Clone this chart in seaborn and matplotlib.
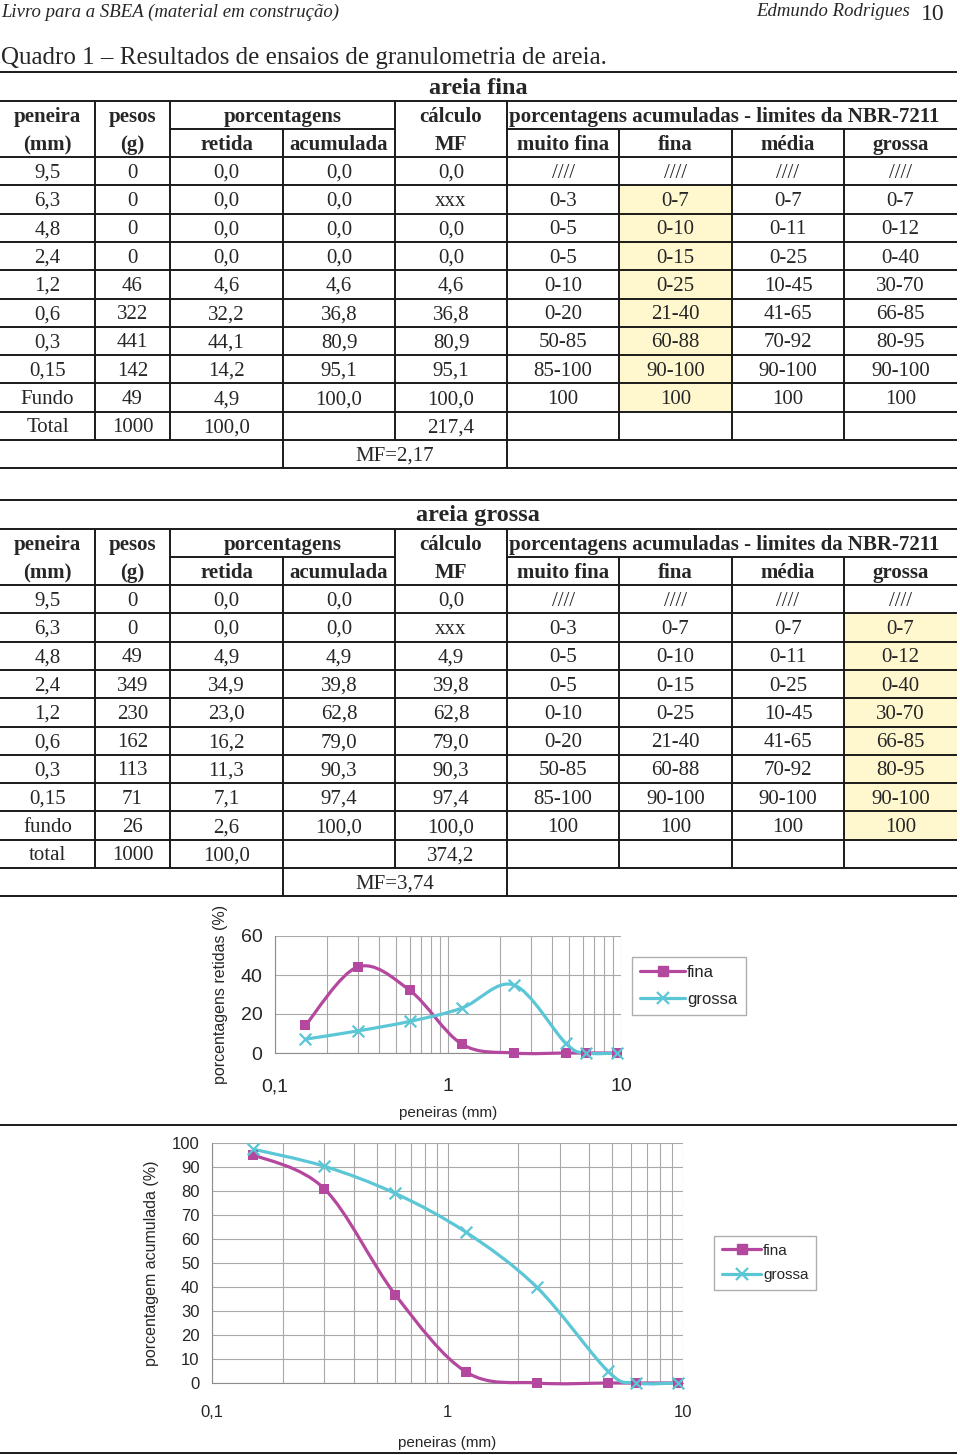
import numpy as np
import matplotlib
matplotlib.use("Agg")
import matplotlib.pyplot as plt
import seaborn as sns
from matplotlib.path import Path
from matplotlib.patches import PathPatch, Rectangle
from matplotlib.lines import Line2D
from matplotlib.ticker import FixedLocator, NullFormatter

# ---- data read from the page ----
peneiras = [9.5, 6.3, 4.8, 2.4, 1.2, 0.6, 0.3, 0.15]

# last value of each list is the "fundo" row
pesos_fina = [0, 0, 0, 0, 46, 322, 441, 142, 49]
retida_fina = [0.0, 0.0, 0.0, 0.0, 4.6, 32.2, 44.1, 14.2, 4.9]
acum_fina = [0.0, 0.0, 0.0, 0.0, 4.6, 36.8, 80.9, 95.1, 100.0]
total_mf_fina = 217.4
mf_fina = 2.17

pesos_grossa = [0, 0, 49, 349, 230, 162, 113, 71, 26]
retida_grossa = [0.0, 0.0, 4.9, 34.9, 23.0, 16.2, 11.3, 7.1, 2.6]
acum_grossa = [0.0, 0.0, 4.9, 39.8, 62.8, 79.0, 90.3, 97.4, 100.0]
total_mf_grossa = 374.2
mf_grossa = 3.74

lim_muito_fina = ["////", "0-3", "0-5", "0-5", "0-10", "0-20", "50-85", "85-100", "100"]
lim_fina = ["////", "0-7", "0-10", "0-15", "0-25", "21-40", "60-88", "90-100", "100"]
lim_media = ["////", "0-7", "0-11", "0-25", "10-45", "41-65", "70-92", "90-100", "100"]
lim_grossa = ["////", "0-7", "0-12", "0-40", "30-70", "66-85", "80-95", "90-100", "100"]

C_FINA = "#b4489e"
C_GROSSA = "#5bc6d5"
C_GRID = "#a8a8a8"
C_YELLOW = "#fff8cf"
C_LINE = "#1a1a1a"

sns.set_style("white")
plt.rcParams["font.family"] = ["Liberation Sans", "DejaVu Sans"]
SERIF = ["Liberation Serif", "DejaVu Serif"]

W, H = 960, 1455
fig = plt.figure(figsize=(W / 100, H / 100), dpi=100)
page = fig.add_axes([0, 0, 1, 1])
page.set_xlim(0, W)
page.set_ylim(H, 0)
page.axis("off")


def num(v, d=1):
    return f"{v:.{d}f}".replace(".", ",")


def hline(y, x0=0, x1=957):
    page.plot([x0, x1], [y, y], color=C_LINE, lw=1.4, solid_capstyle="butt")


def vline(x, y0, y1):
    page.plot([x, x], [y0, y1], color=C_LINE, lw=1.4, solid_capstyle="butt")


# header
page.text(1, 12, "Livro para a SBEA (material em construção)", family=SERIF,
          style="italic", fontsize=13.5, va="center", ha="left")
page.text(910, 12, "Edmundo Rodrigues", family=SERIF, style="italic",
          fontsize=13.5, va="center", ha="right")
page.text(933, 15, "10", family=SERIF, fontsize=17, va="center", ha="center")
page.text(1, 58, "Quadro 1 – Resultados de ensaios de granulometria de areia.",
          family=SERIF, fontsize=18, va="center", ha="left")

X = [0, 95, 170, 283, 395, 507, 619, 732, 844, 957]
CX = [(X[i] + X[i + 1]) / 2 for i in range(9)]
RH = 28.3
FS = 15
DY = 2


def cell(x, y, t, **kw):
    page.text(x, y + DY, t, family=SERIF, fontsize=FS, ha="center", va="center", **kw)


def draw_table(T, title, fundo, total, pesos, retida, acum, total_mf, mf, hl):
    body = T + 85
    # highlight column
    page.add_patch(Rectangle((X[hl], body + RH), X[hl + 1] - X[hl], RH * 8,
                             facecolor=C_YELLOW, edgecolor="none", zorder=0))
    page.text(478, T + 16, title, family=SERIF, fontsize=17.5,
              weight="bold", ha="center", va="center")
    # header
    y1, y2 = T + 43, T + 71
    for x, t in [(CX[0], "peneira"), (CX[1], "pesos"), ((X[2] + X[4]) / 2, "porcentagens"),
                 (CX[4], "cálculo"), (724, "porcentagens acumuladas - limites da NBR-7211")]:
        cell(x, y1, t, weight="bold")
    for x, t in zip(CX, ["(mm)", "(g)", "retida", "acumulada", "MF",
                         "muito fina", "fina", "média", "grossa"]):
        cell(x, y2, t, weight="bold")
    # body rows
    labels = [num(p, 2 if p == 0.15 else 1) for p in peneiras] + [fundo]
    for r in range(9):
        calc = "xxx" if r == 1 else num(acum[r])
        cells = [labels[r], str(pesos[r]), num(retida[r]), num(acum[r]), calc,
                 lim_muito_fina[r], lim_fina[r], lim_media[r], lim_grossa[r]]
        yc = body + RH * r + RH / 2
        for x, t in zip(CX, cells):
            cell(x, yc, t)
    yc = body + RH * 9 + RH / 2
    for x, t in zip(CX[:5], [total, str(sum(pesos)), num(sum(retida)), "", num(total_mf)]):
        cell(x, yc, t)
    cell(X[4], body + RH * 10 + RH / 2, "MF=" + num(mf, 2))
    # rules
    hline(T)
    hline(T + 29)
    hline(T + 57, X[2], X[4])
    hline(T + 57, X[5], X[9])
    hline(body)
    for r in range(1, 12):
        hline(body + RH * r)
    bot10 = body + RH * 10
    bot11 = body + RH * 11
    for x in [X[1], X[2], X[4]]:
        vline(x, T + 29, bot10)
    vline(X[3], T + 57, bot11)
    vline(X[5], T + 29, bot11)
    for x in [X[6], X[7], X[8]]:
        vline(x, T + 57, bot10)


draw_table(72, "areia fina", "Fundo", "Total", pesos_fina, retida_fina,
           acum_fina, total_mf_fina, mf_fina, 6)
draw_table(500, "areia grossa", "fundo", "total", pesos_grossa, retida_grossa,
           acum_grossa, total_mf_grossa, mf_grossa, 8)
hline(1125)
hline(1453)


def smooth_path(xs, ys):
    pts = np.column_stack([np.log10(xs), ys])
    n = len(pts)
    verts, codes = [pts[0]], [Path.MOVETO]
    for i in range(n - 1):
        p0, p1 = pts[max(i - 1, 0)], pts[i]
        p2, p3 = pts[i + 1], pts[min(i + 2, n - 1)]
        verts += [p1 + (p2 - p0) / 6, p2 - (p3 - p1) / 6, p2]
        codes += [Path.CURVE4] * 3
    verts = np.array(verts)
    verts[:, 0] = 10 ** verts[:, 0]
    return Path(verts, codes)


def make_chart(rect, yfina, ygrossa, ymax, ystep, ylabel, tfs, lfs, xpad, xlpad,
               leg_xy, leg_fs, hlen):
    yfina, ygrossa = yfina[:len(peneiras)], ygrossa[:len(peneiras)]
    ax = fig.add_axes(rect)
    ax.set_xscale("log")
    ax.set_xlim(0.1, 10)
    ax.set_ylim(0, ymax)
    for ys, c in [(yfina, C_FINA), (ygrossa, C_GROSSA)]:
        ax.add_patch(PathPatch(smooth_path(peneiras, ys), facecolor="none",
                               edgecolor=c, lw=2.3, clip_on=False, zorder=3))
    sns.scatterplot(x=peneiras, y=yfina, marker="s", s=48, color=C_FINA,
                    edgecolor=C_FINA, linewidth=0, ax=ax, clip_on=False, zorder=4)
    sns.scatterplot(x=peneiras, y=ygrossa, marker="x", s=70, color=C_GROSSA,
                    linewidth=1.6, ax=ax, clip_on=False, zorder=5)
    ax.set_yticks(np.arange(0, ymax + 1, ystep))
    ax.xaxis.set_major_locator(FixedLocator([0.1, 1, 10]))
    ax.set_xticklabels(["0,1", "1", "10"])
    minors = [m * d for d in (0.1, 1) for m in range(2, 10)]
    ax.xaxis.set_minor_locator(FixedLocator(minors))
    ax.xaxis.set_minor_formatter(NullFormatter())
    ax.grid(True, which="both", axis="x", color=C_GRID, lw=0.8)
    ax.grid(True, which="major", axis="y", color=C_GRID, lw=0.8)
    ax.tick_params(axis="both", which="major", length=4, color=C_GRID, labelsize=tfs)
    ax.tick_params(axis="x", which="major", pad=xpad)
    ax.tick_params(axis="y", which="major", pad=5)
    ax.tick_params(axis="x", which="minor", length=0)
    for s in ["top", "right"]:
        ax.spines[s].set_visible(False)
    for s in ["left", "bottom"]:
        ax.spines[s].set_color("#8c8c8c")
        ax.spines[s].set_linewidth(0.8)
    ax.set_ylabel(ylabel, fontsize=lfs, labelpad=9)
    ax.set_xlabel("peneiras (mm)", fontsize=11, labelpad=xlpad)
    handles = [Line2D([], [], color=C_FINA, lw=2.3, marker="s", ms=7, mec=C_FINA),
               Line2D([], [], color=C_GROSSA, lw=2.3, marker="x", ms=8, mew=1.6)]
    fig.legend(handles, ["fina", "grossa"], loc="upper left",
               bbox_to_anchor=(leg_xy[0] / W, 1 - leg_xy[1] / H),
               bbox_transform=fig.transFigure, fontsize=leg_fs, frameon=True,
               fancybox=False, edgecolor="#9a9a9a", borderaxespad=0,
               handlelength=hlen, handletextpad=0.1, borderpad=0.5,
               labelspacing=0.7)
    return ax


make_chart([275 / W, 1 - 1053 / H, 346 / W, 117 / H], retida_fina, retida_grossa,
           60, 20, "porcentagens retidas (%)", 14, 11.5, 14, 8, (632, 957), 12, 2.7)
make_chart([212 / W, 1 - 1383 / H, 471 / W, 240 / H], acum_fina, acum_grossa,
           100, 10, "porcentagem acumulada (%)", 12, 11.5, 12, 11, (714, 1236), 11, 2.6)

fig.savefig("out.png", dpi=100)
